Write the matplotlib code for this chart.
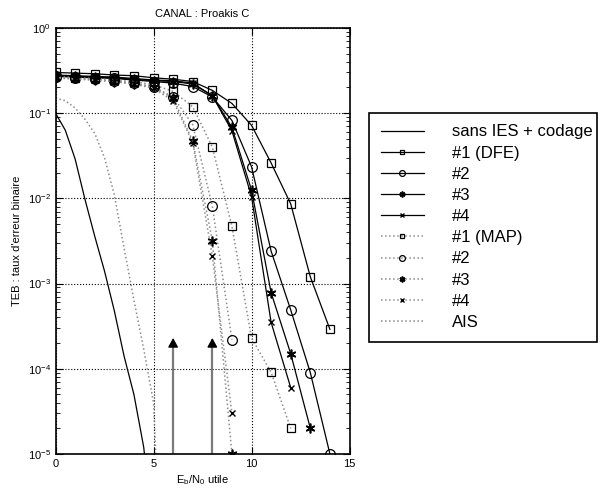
import matplotlib
matplotlib.use('Agg')
import matplotlib.pyplot as plt

plt.rcParams['font.family'] = ['Liberation Sans', 'DejaVu Sans']
plt.rcParams['mathtext.default'] = 'regular'

# Eb/N0 (dB)
snr = list(range(15))

# sans IES + codage (reference) and AIS bound
snr_ref = [0, 0.5, 1, 1.5, 2, 2.5, 3, 3.5, 4, 4.5, 5]
teb_ref = [0.1, 0.063, 0.029, 0.0098, 0.0036, 0.0014, 0.00048, 0.00014, 5e-5, 1.2e-5, 1e-6]
snr_ais = [0, 0.5, 1, 1.5, 2, 2.5, 3, 3.5, 4, 4.5, 5, 5.5]
teb_ais = [0.15, 0.14, 0.115, 0.085, 0.058, 0.03, 0.011, 0.0026, 0.00064, 0.00017, 4e-5, 1e-7]

# DFE iterations
dfe1 = [0.30, 0.295, 0.29, 0.28, 0.275, 0.26, 0.25, 0.235, 0.185, 0.13, 0.072, 0.026, 0.0086, 0.0012, 0.00029]
dfe2 = [0.27, 0.265, 0.26, 0.255, 0.245, 0.235, 0.225, 0.205, 0.155, 0.082, 0.0235, 0.0024, 0.00049, 9e-5, 1e-5]
dfe3 = [0.275, 0.27, 0.265, 0.26, 0.25, 0.24, 0.235, 0.22, 0.16, 0.068, 0.0125, 0.00078, 0.00015, 2e-5]
dfe4 = [0.28, 0.275, 0.27, 0.265, 0.255, 0.245, 0.24, 0.225, 0.16, 0.062, 0.0105, 0.00035, 6e-5]

# MAP iterations
map1 = [0.27, 0.26, 0.255, 0.245, 0.235, 0.215, 0.18, 0.119, 0.040, 0.0047, 0.00023, 9.1e-5, 2e-5]
map2 = [0.265, 0.255, 0.25, 0.24, 0.225, 0.205, 0.155, 0.073, 0.0081, 0.00022]
map3 = [0.265, 0.255, 0.245, 0.235, 0.22, 0.2, 0.15, 0.047, 0.0032, 1e-5]
map4 = [0.26, 0.25, 0.245, 0.235, 0.22, 0.195, 0.14, 0.045, 0.0021, 3e-5]

arrow_x = [6, 8]
arrow_base = [1.86e-4, 1.86e-4]
arrow_top = [2.3e-4, 2.3e-4]

fig = plt.figure(figsize=(6.1, 4.9), dpi=100)
ax = fig.add_axes([0.091, 0.0735, 0.482, 0.8695])

lw = 0.9
gray = '#8c8c8c'
star = (6, 2, 0)  # asterisk, like matlab '*'
mk = dict(markerfacecolor='none', markeredgecolor='black', markeredgewidth=0.9)
mk_star = dict(markeredgecolor='black', markeredgewidth=1.2)
mk_x = dict(markeredgecolor='black', markeredgewidth=1.0)

ax.semilogy(snr_ref, teb_ref, '-', color='black', lw=lw, label='sans IES + codage')
ax.semilogy(snr[:len(dfe1)], dfe1, '-s', color='black', lw=lw, ms=6, label='#1 (DFE)', **mk)
ax.semilogy(snr[:len(dfe2)], dfe2, '-o', color='black', lw=lw, ms=7, label='#2', **mk)
ax.semilogy(snr[:len(dfe3)], dfe3, '-', marker=star, color='black', lw=lw, ms=7, label='#3', **mk_star)
ax.semilogy(snr[:len(dfe4)], dfe4, '-x', color='black', lw=lw, ms=5, label='#4', **mk_x)
ax.semilogy(snr[:len(map1)], map1, ':s', color=gray, lw=1.1, ms=6, label='#1 (MAP)', **mk)
ax.semilogy(snr[:len(map2)], map2, ':o', color=gray, lw=1.1, ms=7, label='#2', **mk)
ax.semilogy(snr[:len(map3)], map3, ':', marker=star, color=gray, lw=1.1, ms=7, label='#3', **mk_star)
ax.semilogy(snr[:len(map4)], map4, ':x', color=gray, lw=1.1, ms=5, label='#4', **mk_x)
ax.semilogy(snr_ais, teb_ais, ':', color=gray, lw=1.1, label='AIS')

# arrows: gray shaft, black head
for xa, yb, yt in zip(arrow_x, arrow_base, arrow_top):
    ax.vlines(xa, 1e-5, yb, color='#7a7a7a', lw=1.6)
    ax.annotate('', xy=(xa, yt), xytext=(xa, yb),
                arrowprops=dict(arrowstyle='-|>,head_length=0.55,head_width=0.3',
                                color='black', lw=1.0, shrinkA=0, shrinkB=0))

ax.set_xlim(0, 15)
ax.set_ylim(1e-5, 1)
ax.set_xticks([0, 5, 10, 15])
ax.grid(True, which='major', linestyle=':', color='black', linewidth=0.8)
ax.tick_params(which='both', direction='in', top=True, right=True, labelsize=8)
ax.tick_params(which='major', length=5)
ax.tick_params(which='minor', length=3)
for s in ax.spines.values():
    s.set_linewidth(1.2)

ax.set_title('CANAL : Proakis C', fontsize=8, pad=8)
ax.set_xlabel('E$_b$/N$_0$ utile', fontsize=8, labelpad=3)
ax.set_ylabel("TEB : taux d'erreur binaire", fontsize=8, labelpad=4)

leg = fig.legend(loc='upper left', bbox_to_anchor=(0.605, 0.77, 0.374, 0.0), mode='expand',
                 borderaxespad=0, fontsize=12, labelspacing=0.37, borderpad=0.7,
                 handlelength=2.6, handletextpad=1.7, fancybox=False, edgecolor='black',
                 framealpha=1, markerscale=0.6)
leg.get_frame().set_linewidth(1.2)

plt.savefig('out.png', dpi=100)
